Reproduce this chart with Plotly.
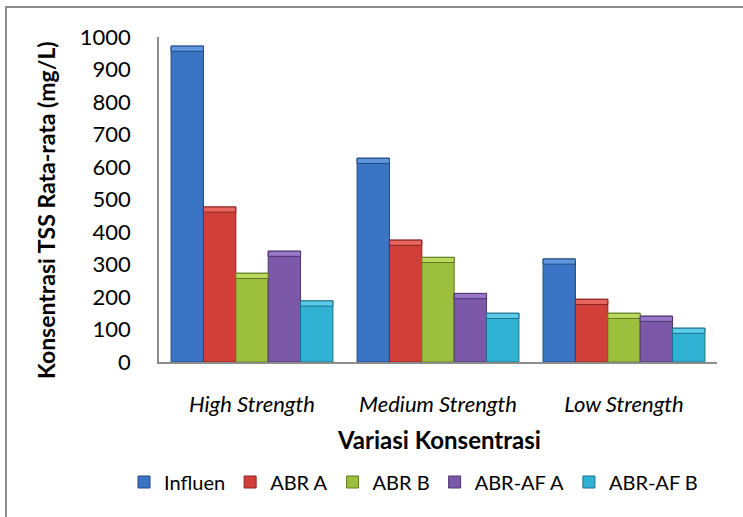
import plotly.graph_objects as go

# Average TSS concentration (mg/L) for each concentration variation
categories = ["High Strength", "Medium Strength", "Low Strength"]
series_names = ["Influen", "ABR A", "ABR B", "ABR-AF A", "ABR-AF B"]
influen = [972, 627, 317]
abr_a = [477, 375, 193]
abr_b = [273, 322, 150]
abr_af_a = [341, 211, 141]
abr_af_b = [188, 150, 104]
y_ticks = [0, 100, 200, 300, 400, 500, 600, 700, 800, 900, 1000]

series_values = [influen, abr_a, abr_b, abr_af_a, abr_af_b]
fill_colors = ["#3A74C4", "#D23E38", "#9DBF3E", "#7C59A8", "#30B2D4"]
edge_colors = ["#23497F", "#8A2420", "#627A22", "#4D3570", "#1D7189"]
cap_colors = ["#5F97DF", "#E8665F", "#BAD95E", "#9878C6", "#5CCCEA"]

W, H = 743, 517
L, R, T, B = 159, 26, 37, 155
pw, ph = W - L - R, H - T - B
FONT = "Lato"

fig = go.Figure()

# main bars
for i, (name, vals) in enumerate(zip(series_names, series_values)):
    fig.add_trace(go.Bar(
        x=categories, y=vals, name=name, offsetgroup=str(i),
        marker=dict(color=fill_colors[i],
                    line=dict(color=edge_colors[i], width=1)),
    ))

# lighter bevel band on top of every bar
cap = 16
for i, vals in enumerate(series_values):
    fig.add_trace(go.Bar(
        x=categories, y=[cap] * len(vals), base=[v - cap for v in vals],
        offsetgroup=str(i), showlegend=False, hoverinfo="skip",
        marker=dict(color=cap_colors[i], line=dict(color=edge_colors[i], width=1)),
    ))

def px_x(p):
    return (p - L) / pw

def px_y(p):
    return (H - B - p) / ph

fig.update_layout(
    width=W, height=H,
    margin=dict(l=L, r=R, t=T, b=B, pad=0, autoexpand=False),
    paper_bgcolor="white", plot_bgcolor="white",
    barmode="group", bargap=0.13, bargroupgap=0,
    font=dict(family=FONT, color="black"),
    showlegend=True,
    legend=dict(orientation="h",
                x=px_x(124), xanchor="left",
                y=px_y(482), yanchor="middle",
                font=dict(family=FONT, size=20),
                itemwidth=30, traceorder="normal",
                bgcolor="rgba(0,0,0,0)"),
    xaxis=dict(showline=True, linecolor="#8C8C8C", linewidth=2,
               automargin=False,
               ticks="", tickfont=dict(family=FONT, size=22, style="italic"),
               ticklabelstandoff=22),
    yaxis=dict(range=[0, 1000], tickvals=y_ticks, showgrid=False,
               automargin=False,
               showline=True, linecolor="#8C8C8C", linewidth=1.5,
               ticks="", tickfont=dict(family=FONT, size=22),
               ticklabelstandoff=22, zeroline=False),
    annotations=[
        dict(text="<b>Konsentrasi TSS Rata-rata (mg/L)</b>", textangle=-90,
             xref="paper", yref="paper", x=px_x(46), y=px_y(210),
             xanchor="center", yanchor="middle",
             showarrow=False, font=dict(family=FONT, size=23)),
        dict(text="<b>Variasi Konsentrasi</b>",
             xref="paper", yref="paper", x=px_x(439), y=px_y(439),
             xanchor="center", yanchor="middle",
             showarrow=False, font=dict(family=FONT, size=24)),
    ],
    shapes=[dict(type="rect", xref="paper", yref="paper",
                 x0=px_x(6), x1=px_x(760), y0=px_y(540), y1=px_y(7),
                 line=dict(color="#8C8C8C", width=2), layer="below")],
)

fig.write_html("out.html")
